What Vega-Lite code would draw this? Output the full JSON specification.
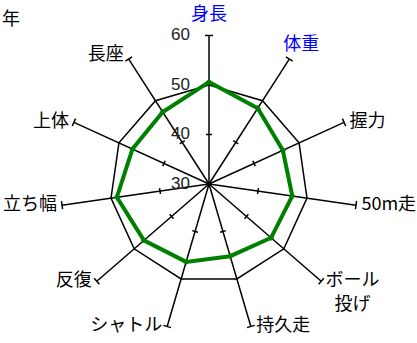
{
  "$schema": "https://vega.github.io/schema/vega-lite/v6.json",
  "width": 417,
  "height": 343,
  "autosize": "none",
  "padding": 0,
  "background": "white",
  "config": {"view": {"stroke": null}, "text": {"font": "Noto Sans CJK JP"}},
  "datasets": {
    "scores": [
      {"i": 0, "label": "身長", "value": 50.6},
      {"i": 1, "label": "体重", "value": 48.2},
      {"i": 2, "label": "握力", "value": 46.4},
      {"i": 3, "label": "50m走", "value": 47.0},
      {"i": 4, "label": "ボール\n投げ", "value": 46.6},
      {"i": 5, "label": "持久走", "value": 45.2},
      {"i": 6, "label": "シャトル", "value": 46.4},
      {"i": 7, "label": "反復", "value": 47.4},
      {"i": 8, "label": "立ち幅", "value": 48.8},
      {"i": 9, "label": "上体", "value": 47.0},
      {"i": 10, "label": "長座", "value": 47.3}
    ],
    "ticks": [{"v": 30}, {"v": 40}, {"v": 50}, {"v": 60}],
    "title": [{"t": "年"}]
  },
  "layer": [
    {
      "data": {"name": "scores"},
      "transform": [
        {"calculate": "datum.i*2*PI/11", "as": "a"},
        {"calculate": "sin(datum.a)", "as": "s"},
        {"calculate": "cos(datum.a)", "as": "c"},
        {"calculate": "datum.a*180/PI", "as": "deg"},
        {"calculate": "0", "as": "o"},
        {"calculate": "(datum.value-30)*datum.s", "as": "px"},
        {"calculate": "(datum.value-30)*datum.c", "as": "py"},
        {"calculate": "20*datum.s", "as": "gx"},
        {"calculate": "20*datum.c", "as": "gy"},
        {"calculate": "30*datum.s", "as": "ex"},
        {"calculate": "30*datum.c", "as": "ey"},
        {"calculate": "10*datum.s", "as": "tx"},
        {"calculate": "10*datum.c", "as": "ty"},
        {"calculate": "indexof(datum.label, '\\n') >= 0", "as": "multi"},
        {"calculate": "30*datum.s + (datum.multi ? 6.3 : (datum.s > 0.1 && datum.c > 0.5 ? -1.2 : (datum.s > 0.1 ? 1.1 : (datum.s < -0.1 ? -1.0 : 0))))", "as": "lx"},
        {"calculate": "30*datum.c + (datum.c > 0.9 ? 4.1 : (datum.s > 0.1 && datum.c > 0.5 ? 2.8 : (datum.s < -0.1 && datum.c > 0.5 ? 0.8 : 0)))", "as": "ly"}
      ],
      "layer": [
        {
          "mark": {"type": "line", "interpolate": "linear-closed", "color": "black", "strokeWidth": 1.5},
          "encoding": {
            "x": {"field": "gx", "type": "quantitative", "scale": {"domain": [-42.222, 42.02], "nice": false, "zero": false}, "axis": null},
            "y": {"field": "gy", "type": "quantitative", "scale": {"domain": [-32.12, 37.17], "nice": false, "zero": false}, "axis": null},
            "order": {"field": "i", "type": "quantitative"}
          }
        },
        {
          "mark": {"type": "rule", "color": "black", "strokeWidth": 1.5},
          "encoding": {
            "x": {"field": "o", "type": "quantitative"},
            "y": {"field": "o", "type": "quantitative"},
            "x2": {"field": "ex"},
            "y2": {"field": "ey"}
          }
        },
        {
          "mark": {"type": "point", "shape": "stroke", "filled": false, "color": "black", "strokeWidth": 1.5, "size": 36, "opacity": 1},
          "encoding": {
            "x": {"field": "tx", "type": "quantitative"},
            "y": {"field": "ty", "type": "quantitative"},
            "angle": {"field": "deg", "type": "quantitative", "scale": null}
          }
        },
        {
          "mark": {"type": "point", "shape": "stroke", "filled": false, "color": "black", "strokeWidth": 1.5, "size": 64, "opacity": 1},
          "encoding": {
            "x": {"field": "ex", "type": "quantitative"},
            "y": {"field": "ey", "type": "quantitative"},
            "angle": {"field": "deg", "type": "quantitative", "scale": null}
          }
        },
        {
          "mark": {"type": "line", "interpolate": "linear-closed", "color": "#008000", "strokeWidth": 4},
          "encoding": {
            "x": {"field": "px", "type": "quantitative"},
            "y": {"field": "py", "type": "quantitative"},
            "order": {"field": "i", "type": "quantitative"}
          }
        },
        {
          "mark": {"type": "point", "shape": "diamond", "filled": true, "color": "#008000", "size": 40, "opacity": 1},
          "encoding": {
            "x": {"field": "px", "type": "quantitative"},
            "y": {"field": "py", "type": "quantitative"}
          }
        },
        {
          "transform": [{"filter": "datum.s > 0.1 && !datum.multi"}],
          "mark": {"type": "text", "fontSize": 18, "baseline": "middle", "align": "left"},
          "encoding": {
            "x": {"field": "lx", "type": "quantitative"},
            "y": {"field": "ly", "type": "quantitative"},
            "text": {"field": "label"},
            "color": {"condition": {"test": "datum.i <= 1", "value": "#0000ff"}, "value": "#000000"}
          }
        },
        {
          "transform": [{"filter": "datum.multi"}],
          "mark": {"type": "text", "fontSize": 18, "baseline": "middle", "align": "center", "lineBreak": "\n", "lineHeight": 24},
          "encoding": {
            "x": {"field": "lx", "type": "quantitative"},
            "y": {"field": "ly", "type": "quantitative"},
            "text": {"field": "label"},
            "color": {"value": "#000000"}
          }
        },
        {
          "transform": [{"filter": "datum.s < -0.1"}],
          "mark": {"type": "text", "fontSize": 18, "baseline": "middle", "align": "right"},
          "encoding": {
            "x": {"field": "lx", "type": "quantitative"},
            "y": {"field": "ly", "type": "quantitative"},
            "text": {"field": "label"},
            "color": {"value": "#000000"}
          }
        },
        {
          "transform": [{"filter": "datum.s >= -0.1 && datum.s <= 0.1"}],
          "mark": {"type": "text", "fontSize": 18, "baseline": "middle", "align": "center"},
          "encoding": {
            "x": {"field": "lx", "type": "quantitative"},
            "y": {"field": "ly", "type": "quantitative"},
            "text": {"field": "label"},
            "color": {"value": "#0000ff"}
          }
        }
      ]
    },
    {
      "data": {"name": "ticks"},
      "transform": [{"calculate": "datum.v - 30", "as": "r"}, {"calculate": "0", "as": "o"}],
      "mark": {"type": "text", "fontSize": 17, "align": "right", "baseline": "middle", "dx": -19, "color": "#222222", "font": "Liberation Sans"},
      "encoding": {
        "x": {"field": "o", "type": "quantitative"},
        "y": {"field": "r", "type": "quantitative"},
        "text": {"field": "v", "type": "quantitative"}
      }
    },
    {
      "data": {"name": "title"},
      "transform": [{"calculate": "-41.8", "as": "x"}, {"calculate": "33.2", "as": "y"}],
      "mark": {"type": "text", "fontSize": 18, "align": "left", "baseline": "middle", "color": "#000000"},
      "encoding": {
        "x": {"field": "x", "type": "quantitative"},
        "y": {"field": "y", "type": "quantitative"},
        "text": {"field": "t"}
      }
    }
  ]
}
